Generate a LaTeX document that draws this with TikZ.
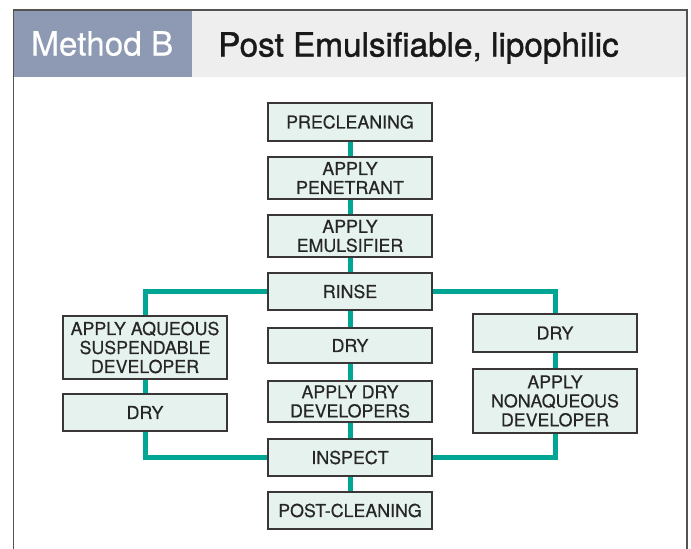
\documentclass[tikz,border=0pt]{standalone}
\usepackage{fontspec}
\setmainfont{TeX Gyre Heros}
\newfontfamily\medfont[FakeBold=1.2]{TeX Gyre Heros}
\newfontfamily\boxfont[FakeBold=0.4]{TeX Gyre Heros}
\definecolor{teal1}{HTML}{00A693}
\definecolor{boxfill}{HTML}{E6F2ED}
\definecolor{boxline}{HTML}{3A3536}
\definecolor{hdrblue}{HTML}{8E9AB4}
\definecolor{hdrgrey}{HTML}{EEEEEE}
\definecolor{frame}{HTML}{555252}
\tikzset{
  stepbox/.style={draw=boxline, line width=1.2pt, fill=boxfill, minimum width=164pt, inner sep=0pt, align=center, font=\boxfont\fontsize{17.8}{19}\selectfont, text=black!85},
  conn/.style={draw=teal1, line width=5pt}
}
\begin{document}
\begin{tikzpicture}[x=1pt,y=-1pt]
\useasboundingbox (0,0) rectangle (691,549);
\fill[white] (0,0) rectangle (691,549);
% header
\fill[hdrblue] (13.5,10) rectangle (192,77);
\fill[hdrgrey] (192,10) rectangle (687,77);
\draw[frame, line width=1.6pt] (13.5,560) -- (13.5,10) -- (687,10) -- (687,560);
\node[anchor=base west, inner sep=0pt, text=white, font=\boxfont\fontsize{33.3}{36}\selectfont] (mb) at (31,55.5) {Method B};
\node[anchor=base west, inner sep=0pt, text=black!90, font=\medfont\fontsize{33.3}{36}\selectfont] (title) at (218,56.5) {Post Emulsifiable, lipophilic};
% boxes
\node[stepbox, minimum height=38pt] (pre) at (350,122) {PRECLEANING};
\node[stepbox, minimum height=42pt] (pen) at (350,178) {APPLY\\PENETRANT};
\node[stepbox, minimum height=42pt] (emu) at (350,236) {APPLY\\EMULSIFIER};
\node[stepbox, minimum height=37pt] (rinse) at (350,291.5) {RINSE};
\node[stepbox, minimum height=35pt] (dryc) at (350,345.5) {DRY};
\node[stepbox, minimum height=41pt] (adry) at (350,401.5) {APPLY DRY\\DEVELOPERS};
\node[stepbox, minimum height=37pt] (insp) at (350,457.5) {INSPECT};
\node[stepbox, minimum height=37pt] (post) at (350,510.5) {POST-CLEANING};
\node[stepbox, minimum height=63pt] (aq) at (145,347.5) {APPLY AQUEOUS\\SUSPENDABLE\\DEVELOPER};
\node[stepbox, minimum height=37pt] (dryl) at (145,412.5) {DRY};
\node[stepbox, minimum height=38pt] (dryr) at (555,333) {DRY};
\node[stepbox, minimum height=64pt] (nonaq) at (555,401) {APPLY\\NONAQUEOUS\\DEVELOPER};
% connectors
\draw[conn] (pre.south) -- (pen.north);
\draw[conn] (pen.south) -- (emu.north);
\draw[conn] (emu.south) -- (rinse.north);
\draw[conn] (rinse.south) -- (dryc.north);
\draw[conn] (dryc.south) -- (adry.north);
\draw[conn] (adry.south) -- (insp.north);
\draw[conn] (insp.south) -- (post.north);
\draw[conn] (rinse.west) -| (aq.north);
\draw[conn] (aq.south) -- (dryl.north);
\draw[conn] (dryl.south) |- (insp.west);
\draw[conn] (rinse.east) -| (dryr.north);
\draw[conn] (dryr.south) -- (nonaq.north);
\draw[conn] (nonaq.south) |- (insp.east);
\end{tikzpicture}
\end{document}
